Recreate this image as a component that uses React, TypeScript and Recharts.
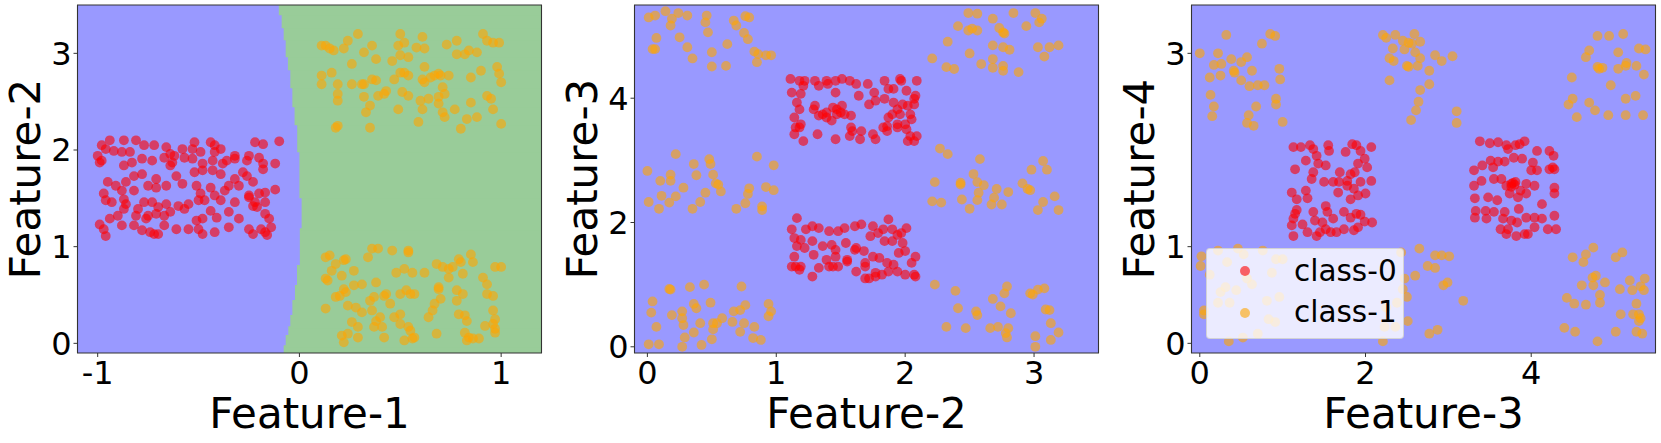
import { Label, Legend, ReferenceArea, Scatter, ScatterChart, XAxis, YAxis } from "recharts";

const FONT = "DejaVu Sans, sans-serif";
const RED = "#ff0000";
const ORANGE = "#ffa500";
const BLUE_BG = "#9999ff";
const GREEN_BG = "#99cc99";

type Pair = [number, number];

// ---- Feature-1 vs Feature-2 ----
const f1f2Class0: Pair[] = [
  [-0.98, 2.05], [-0.94, 2.1], [-0.96, 2.01], [-0.87, 2.1], [-0.81, 2.1], [-0.77, 2.05], [-0.72, 2.05], [-0.66, 2.03],
  [-0.64, 1.96], [-0.58, 2.01], [-0.52, 2.08], [-0.53, 2.01], [-0.49, 1.98], [-0.44, 2.08], [-0.42, 2.05], [-0.39, 2.01],
  [-0.36, 1.89], [-0.32, 1.94], [-0.26, 1.89], [-0.22, 2.08], [-0.18, 2.06], [-0.1, 2.09], [-1.0, 1.94], [-0.98, 1.89],
  [-0.92, 1.99], [-0.88, 1.98], [-0.84, 1.98], [-0.83, 1.87], [-0.78, 1.91], [-0.73, 1.89], [-0.67, 1.92], [-0.63, 1.87],
  [-0.62, 1.94], [-0.57, 1.92], [-0.53, 1.91], [-0.48, 1.86], [-0.43, 1.89], [-0.42, 1.98], [-0.38, 1.86], [-0.32, 1.91],
  [-0.25, 1.94], [-0.2, 1.92], [-0.18, 1.86], [-0.12, 1.86], [-0.99, 1.87], [-0.87, 1.84], [-0.82, 1.73], [-0.78, 1.75],
  [-0.71, 1.7], [-0.64, 1.84], [-0.61, 1.73], [-0.52, 1.77], [-0.48, 1.79], [-0.43, 1.79], [-0.39, 1.75], [-0.32, 1.7],
  [-0.28, 1.77], [-0.26, 1.73], [-0.23, 1.67], [-0.18, 1.8], [-0.95, 1.67], [-0.91, 1.63], [-0.86, 1.67], [-0.88, 1.58],
  [-0.82, 1.58], [-0.75, 1.63], [-0.71, 1.61], [-0.66, 1.63], [-0.58, 1.65], [-0.51, 1.63], [-0.49, 1.55], [-0.44, 1.61],
  [-0.37, 1.58], [-0.35, 1.63], [-0.3, 1.63], [-0.25, 1.53], [-0.2, 1.55], [-0.17, 1.56], [-0.12, 1.59], [-0.97, 1.55],
  [-0.96, 1.48], [-0.93, 1.46], [-0.87, 1.49], [-0.86, 1.44], [-0.8, 1.39], [-0.77, 1.46], [-0.73, 1.46], [-0.7, 1.41],
  [-0.66, 1.44], [-0.57, 1.39], [-0.55, 1.44], [-0.5, 1.48], [-0.47, 1.48], [-0.42, 1.53], [-0.39, 1.48], [-0.32, 1.46],
  [-0.25, 1.51], [-0.22, 1.46], [-0.21, 1.41], [-0.17, 1.46], [-0.9, 1.32], [-0.87, 1.39], [-0.81, 1.32], [-0.75, 1.32],
  [-0.71, 1.34], [-0.67, 1.32], [-0.64, 1.36], [-0.6, 1.42], [-0.51, 1.27], [-0.48, 1.29], [-0.44, 1.37], [-0.41, 1.3],
  [-0.35, 1.36], [-0.3, 1.29], [-0.23, 1.42], [-0.17, 1.34], [-0.15, 1.29], [-0.99, 1.23], [-0.97, 1.18], [-0.94, 1.29],
  [-0.88, 1.22], [-0.82, 1.22], [-0.78, 1.17], [-0.72, 1.13], [-0.7, 1.13], [-0.67, 1.22], [-0.61, 1.18], [-0.55, 1.18],
  [-0.5, 1.18], [-0.48, 1.13], [-0.42, 1.15], [-0.35, 1.2], [-0.25, 1.18], [-0.23, 1.13], [-0.19, 1.18], [-0.17, 1.15],
  [-0.14, 1.2], [-0.96, 1.11], [-0.74, 1.15], [-0.76, 1.29], [-0.16, 1.12],
];
const f1f2Class1Upper: Pair[] = [
  [0.11, 3.08], [0.13, 3.08], [0.15, 3.05], [0.17, 3.03], [0.22, 3.05], [0.29, 3.2], [0.24, 3.13], [0.32, 3.01],
  [0.36, 3.08], [0.38, 2.94], [0.36, 2.73], [0.38, 2.72], [0.32, 2.68], [0.26, 2.89], [0.11, 2.77], [0.11, 2.68],
  [0.16, 2.8], [0.19, 2.68], [0.19, 2.58], [0.19, 2.51], [0.18, 2.23], [0.19, 2.25], [0.26, 2.68], [0.31, 2.68],
  [0.32, 2.55], [0.35, 2.46], [0.33, 2.39], [0.35, 2.23], [0.39, 2.56], [0.42, 2.58], [0.43, 2.61], [0.47, 2.73],
  [0.46, 2.92], [0.5, 3.2], [0.49, 3.08], [0.52, 3.11], [0.5, 2.98], [0.54, 2.96], [0.5, 2.8], [0.52, 2.8],
  [0.54, 2.77], [0.51, 2.6], [0.54, 2.56], [0.49, 2.42], [0.58, 3.06], [0.61, 3.17], [0.62, 3.05], [0.62, 2.86],
  [0.61, 2.73], [0.62, 2.7], [0.6, 2.51], [0.61, 2.42], [0.59, 2.29], [0.64, 2.53], [0.65, 2.75], [0.67, 2.77],
  [0.69, 2.79], [0.7, 2.77], [0.74, 2.77], [0.71, 2.65], [0.72, 2.58], [0.69, 2.55], [0.69, 2.48], [0.71, 2.39],
  [0.72, 2.34], [0.73, 3.09], [0.78, 3.13], [0.78, 2.99], [0.82, 2.99], [0.84, 3.03], [0.88, 3.01], [0.77, 2.42],
  [0.83, 2.32], [0.8, 2.22], [0.88, 2.34], [0.85, 2.49], [0.85, 2.75], [0.9, 2.82], [0.91, 3.2], [0.93, 3.13],
  [0.96, 3.11], [0.99, 3.11], [0.98, 2.86], [0.99, 2.79], [1.0, 2.7], [0.93, 2.56], [0.95, 2.53], [0.96, 2.42], [1.0, 2.27],
];
const f1f2Class1Lower: Pair[] = [
  [0.13, 0.89], [0.15, 0.91], [0.18, 0.82], [0.22, 0.86], [0.23, 0.87], [0.13, 0.67], [0.14, 0.65], [0.16, 0.75],
  [0.21, 0.7], [0.27, 0.75], [0.22, 0.56], [0.23, 0.53], [0.27, 0.6], [0.31, 0.61], [0.34, 0.89], [0.36, 0.98],
  [0.39, 0.98], [0.46, 0.96], [0.54, 0.96], [0.54, 0.94], [0.52, 0.77], [0.48, 0.73], [0.56, 0.73], [0.62, 0.73],
  [0.68, 0.82], [0.71, 0.79], [0.74, 0.77], [0.76, 0.79], [0.79, 0.87], [0.8, 0.84], [0.85, 0.92], [0.86, 0.84],
  [0.91, 0.68], [0.93, 0.61], [0.97, 0.79], [1.0, 0.79], [0.74, 0.68], [0.69, 0.58], [0.81, 0.72], [0.38, 0.63],
  [0.35, 0.44], [0.37, 0.48], [0.43, 0.51], [0.42, 0.49], [0.5, 0.51], [0.53, 0.55], [0.55, 0.51], [0.57, 0.51],
  [0.69, 0.56], [0.7, 0.46], [0.67, 0.41], [0.66, 0.34], [0.64, 0.27], [0.78, 0.44], [0.78, 0.55], [0.81, 0.51],
  [0.93, 0.51], [0.96, 0.49], [0.96, 0.34], [0.97, 0.25], [0.96, 0.2], [0.97, 0.15], [0.18, 0.48], [0.2, 0.49],
  [0.13, 0.36], [0.24, 0.39], [0.28, 0.37], [0.31, 0.32], [0.36, 0.34], [0.38, 0.23], [0.4, 0.27], [0.41, 0.17],
  [0.45, 0.41], [0.47, 0.27], [0.5, 0.3], [0.26, 0.22], [0.29, 0.17], [0.37, 0.17], [0.42, 0.06], [0.5, 0.2],
  [0.54, 0.17], [0.55, 0.13], [0.56, 0.05], [0.52, 0.03], [0.57, 0.06], [0.21, 0.08], [0.22, 0.01], [0.24, 0.1],
  [0.68, 0.1], [0.79, 0.3], [0.82, 0.29], [0.83, 0.23], [0.82, 0.11], [0.84, 0.06], [0.83, 0.03], [0.86, 0.05],
  [0.89, 0.05], [0.92, 0.18], [0.97, 0.11], [0.29, 0.06],
];
// decision boundary of the first panel: band edges on Feature-2, Feature-1 where class-1 region starts
const boundaryEdgesF2 = [-0.1, -0.04, 0.065, 0.157, 0.273, 0.428, 0.583, 0.79, 1.17, 1.5, 1.978, 2.257, 2.443, 2.64, 2.826, 2.96, 3.135, 3.26, 3.395, 3.5];
const boundaryStartF1 = [-0.078, -0.068, -0.055, -0.045, -0.035, -0.022, -0.012, 0.002, 0.011, 0.0, -0.011, -0.024, -0.035, -0.045, -0.057, -0.068, -0.078, -0.088, -0.102];

// ---- Feature-2 vs Feature-3 ----
const f2f3Class0: Pair[] = [
  [1.11, 4.31], [1.18, 4.28], [1.22, 4.28], [1.3, 4.28], [1.39, 4.28], [1.46, 4.28], [1.51, 4.31], [1.57, 4.28],
  [1.62, 4.23], [1.71, 4.23], [1.84, 4.28], [1.96, 4.31], [1.97, 4.28], [2.09, 4.28], [1.12, 4.09], [1.19, 4.07],
  [1.21, 4.2], [1.33, 4.2], [1.4, 4.23], [1.46, 4.09], [1.64, 4.04], [1.76, 4.09], [1.87, 4.15], [1.91, 4.15],
  [2.01, 4.12], [2.08, 4.04], [2.07, 3.99], [1.16, 3.93], [1.18, 3.82], [1.3, 3.88], [1.29, 3.82], [1.36, 3.74],
  [1.39, 3.77], [1.44, 3.85], [1.47, 3.82], [1.51, 3.88], [1.53, 3.74], [1.58, 3.72], [1.72, 3.9], [1.77, 3.96],
  [1.84, 3.99], [1.91, 3.93], [1.94, 3.82], [1.98, 3.9], [2.02, 3.88], [2.07, 3.9], [1.14, 3.69], [1.15, 3.53],
  [1.19, 3.58], [1.33, 3.72], [1.39, 3.69], [1.43, 3.64], [1.47, 3.74], [1.5, 3.77], [1.87, 3.69], [1.9, 3.74],
  [1.96, 3.74], [2.04, 3.74], [2.05, 3.66], [1.86, 3.55], [1.94, 3.58], [2.0, 3.58], [1.18, 3.53], [1.14, 3.42],
  [1.32, 3.42], [1.46, 3.34], [1.58, 3.53], [1.59, 3.47], [1.66, 3.47], [1.75, 3.42], [1.77, 3.34], [1.83, 3.53],
  [1.86, 3.47], [1.94, 3.53], [2.01, 3.5], [2.04, 3.39], [2.09, 3.39], [2.02, 3.31], [1.21, 3.31], [1.57, 3.39],
  [1.65, 3.34], [2.07, 3.31],
  [1.16, 2.07], [1.12, 1.89], [1.14, 1.75], [1.19, 1.72], [1.23, 1.89], [1.28, 1.94], [1.33, 1.91], [1.41, 1.86],
  [1.48, 1.86], [1.53, 1.91], [1.61, 1.94], [1.66, 1.97], [1.75, 1.94], [1.83, 1.89], [1.87, 2.05], [1.9, 1.89],
  [1.97, 1.83], [2.01, 1.91], [1.22, 1.59], [1.16, 1.62], [1.28, 1.7], [1.36, 1.62], [1.43, 1.64], [1.46, 1.56],
  [1.54, 1.67], [1.62, 1.59], [1.68, 1.54], [1.73, 1.78], [1.79, 1.83], [1.84, 1.7], [1.9, 1.7], [1.98, 1.67],
  [1.94, 1.8], [1.14, 1.45], [1.15, 1.29], [1.19, 1.29], [1.29, 1.48], [1.39, 1.4], [1.46, 1.45], [1.44, 1.29],
  [1.55, 1.4], [1.61, 1.56], [1.69, 1.35], [1.75, 1.45], [1.8, 1.43], [1.86, 1.35], [1.91, 1.32], [1.95, 1.51],
  [2.0, 1.54], [2.08, 1.45], [2.05, 1.35], [1.12, 1.29], [1.18, 1.24], [1.33, 1.27], [1.41, 1.29], [1.48, 1.29],
  [1.55, 1.37], [1.62, 1.21], [1.69, 1.29], [1.77, 1.19], [1.87, 1.21], [1.94, 1.21], [2.0, 1.16], [2.07, 1.16],
  [2.08, 1.13], [1.28, 1.13], [1.69, 1.1], [1.72, 1.1], [1.77, 1.13], [1.82, 1.16],
];
const f2f3Class1: Pair[] = [
  [0.01, 5.3], [0.06, 5.33], [0.14, 5.4], [0.19, 5.28], [0.24, 5.37], [0.31, 5.33], [0.18, 5.17], [0.25, 4.98],
  [0.31, 4.82], [0.35, 4.64], [0.46, 5.33], [0.45, 5.22], [0.47, 5.06], [0.5, 4.74], [0.5, 4.51], [0.61, 4.52],
  [0.62, 4.87], [0.67, 5.25], [0.69, 5.17], [0.75, 5.05], [0.76, 5.32], [0.79, 5.3], [0.78, 4.95], [0.83, 4.75],
  [0.85, 4.58], [0.86, 4.71], [0.92, 4.69], [0.96, 4.69], [0.04, 4.79], [0.06, 4.79], [0.07, 4.97],
  [2.21, 4.64], [2.32, 4.5], [2.38, 4.47], [2.33, 4.91], [2.41, 5.16], [2.49, 5.37], [2.56, 5.36], [2.49, 5.09],
  [2.52, 5.12], [2.56, 5.09], [2.5, 4.72], [2.59, 4.55], [2.68, 5.28], [2.68, 4.85], [2.68, 4.63], [2.68, 4.49],
  [2.73, 5.13], [2.76, 5.06], [2.77, 5.04], [2.76, 4.82], [2.76, 4.52], [2.76, 4.44], [2.81, 4.78], [2.84, 5.37],
  [2.88, 4.42], [2.94, 5.16], [3.01, 5.37], [3.04, 5.22], [3.06, 5.28], [3.03, 4.82], [3.08, 4.67], [3.12, 4.82], [3.19, 4.85],
  [0.0, 2.83], [0.22, 3.1], [0.36, 2.94], [0.48, 3.02], [0.49, 2.94], [0.51, 2.77], [0.1, 2.67], [0.18, 2.77],
  [0.18, 2.67], [0.28, 2.56], [0.11, 2.43], [0.17, 2.32], [0.22, 2.42], [0.01, 2.33], [0.09, 2.22], [0.35, 2.22],
  [0.38, 2.76], [0.41, 2.33], [0.45, 2.48], [0.53, 2.63], [0.57, 2.5], [0.55, 2.61], [0.69, 2.22], [0.76, 2.31],
  [0.78, 2.46], [0.79, 2.55], [0.85, 3.06], [0.89, 2.26], [0.89, 2.2], [0.92, 2.57], [0.98, 2.52], [0.98, 2.92],
  [2.27, 3.19], [2.33, 3.1], [2.23, 2.65], [2.21, 2.34], [2.28, 2.32], [2.43, 2.64], [2.43, 2.61], [2.44, 2.37],
  [2.5, 2.22], [2.53, 2.78], [2.56, 2.65], [2.58, 3.02], [2.61, 2.6], [2.57, 2.48], [2.56, 2.36], [2.67, 2.29],
  [2.69, 2.4], [2.71, 2.54], [2.75, 2.29], [2.8, 2.49], [2.91, 2.63], [2.95, 2.54], [2.97, 2.52], [2.98, 2.85],
  [3.03, 2.2], [3.07, 2.99], [3.1, 2.85], [3.07, 2.33], [3.16, 2.42], [3.19, 2.2],
  [0.17, 0.93], [0.18, 0.92], [0.33, 0.96], [0.44, 1.0], [0.73, 0.97], [0.04, 0.73], [0.03, 0.55], [0.07, 0.32],
  [0.01, 0.04], [0.09, 0.04], [0.19, 0.51], [0.27, 0.57], [0.27, 0.46], [0.28, 0.35], [0.29, 0.15], [0.27, 0.0],
  [0.36, 0.69], [0.38, 0.62], [0.36, 0.23], [0.41, 0.38], [0.42, 0.03], [0.49, 0.71], [0.5, 0.12], [0.51, 0.38],
  [0.51, 0.28], [0.54, 0.38], [0.58, 0.46], [0.67, 0.57], [0.66, 0.4], [0.72, 0.24], [0.72, 0.59], [0.76, 0.67],
  [0.75, 0.38], [0.83, 0.32], [0.82, 0.14], [0.88, 0.11], [0.94, 0.69], [0.96, 0.57], [0.94, 0.49],
  [2.23, 1.0], [2.39, 0.9], [2.41, 0.62], [2.32, 0.32], [2.47, 0.3], [2.55, 0.57], [2.56, 0.51], [2.66, 0.3],
  [2.68, 0.77], [2.72, 0.32], [2.74, 0.65], [2.77, 0.86], [2.79, 0.97], [2.82, 0.54], [2.78, 0.22], [2.79, 0.15],
  [2.8, 0.3], [2.97, 0.86], [2.99, 0.84], [3.03, 0.92], [3.08, 0.94], [3.09, 0.6], [3.12, 0.59], [3.01, 0.17],
  [3.01, 0.0], [3.13, 0.38], [3.19, 0.23], [3.13, 0.11],
];

// ---- Feature-3 vs Feature-4 ----
const f3f4Class0: Pair[] = [
  [1.13, 2.03], [1.22, 2.03], [1.33, 2.05], [1.37, 2.01], [1.55, 2.05], [1.56, 1.99], [1.76, 1.98], [1.84, 2.06],
  [1.89, 2.05], [1.94, 1.99], [2.07, 2.03], [1.28, 1.89], [1.41, 1.94], [1.43, 1.86], [1.15, 1.8], [1.37, 1.77],
  [1.52, 1.84], [1.69, 1.77], [1.82, 1.75], [1.87, 1.77], [1.99, 1.91], [2.02, 1.82], [1.91, 1.86], [1.35, 1.7],
  [1.5, 1.67], [1.61, 1.67], [1.68, 1.67], [1.78, 1.68], [1.86, 1.6], [1.94, 1.67], [2.07, 1.68], [1.11, 1.56],
  [1.28, 1.58], [1.17, 1.49], [1.3, 1.5], [1.52, 1.42], [1.67, 1.56], [1.78, 1.63], [1.91, 1.53], [2.0, 1.55],
  [1.82, 1.49], [1.17, 1.38], [1.15, 1.34], [1.37, 1.36], [1.54, 1.36], [1.74, 1.36], [1.89, 1.34], [1.94, 1.33],
  [1.13, 1.29], [1.11, 1.22], [1.24, 1.23], [1.39, 1.27], [1.48, 1.25], [1.61, 1.29], [1.82, 1.3], [1.99, 1.26],
  [2.08, 1.25], [1.13, 1.11], [1.3, 1.15], [1.41, 1.11], [1.45, 1.15], [1.52, 1.18], [1.58, 1.15], [1.65, 1.15],
  [1.74, 1.18], [1.91, 1.2], [1.86, 1.17],
  [3.38, 2.09], [3.5, 2.07], [3.6, 2.08], [3.7, 2.05], [3.72, 2.01], [3.81, 2.05], [3.86, 2.06], [3.92, 2.09],
  [4.07, 1.99], [4.22, 1.99], [4.27, 1.94], [3.31, 1.79], [3.41, 1.84], [3.51, 1.89], [3.6, 1.88], [3.54, 1.82],
  [3.68, 1.88], [3.79, 1.92], [3.89, 1.91], [4.02, 1.87], [4.07, 1.79], [4.22, 1.8], [4.26, 1.82], [4.28, 1.8],
  [4.0, 1.79], [3.31, 1.63], [3.4, 1.68], [3.55, 1.7], [3.64, 1.7], [3.7, 1.63], [3.76, 1.65], [3.81, 1.67],
  [3.87, 1.58], [3.94, 1.65], [4.04, 1.63], [4.28, 1.61], [3.32, 1.5], [3.48, 1.51], [3.59, 1.48], [3.74, 1.55],
  [3.84, 1.51], [3.94, 1.55], [4.13, 1.44], [4.28, 1.55], [3.33, 1.37], [3.45, 1.37], [3.55, 1.36], [3.68, 1.36],
  [3.85, 1.39], [3.94, 1.3], [4.04, 1.3], [4.13, 1.29], [4.28, 1.32], [3.32, 1.3], [3.46, 1.29], [3.66, 1.29],
  [3.76, 1.27], [4.04, 1.2], [4.2, 1.18], [4.3, 1.18], [3.63, 1.18], [3.7, 1.13], [3.82, 1.11], [3.92, 1.13],
  [3.96, 1.13], [3.72, 1.18], [3.83, 1.25], [3.78, 1.66], [3.76, 1.62], [3.8, 1.64],
];
const f3f4Class1: Pair[] = [
  [0.0, 3.0], [0.22, 3.0], [0.32, 3.19], [0.17, 2.88], [0.26, 2.89], [0.38, 2.94], [0.41, 2.82], [0.5, 2.91],
  [0.57, 2.96], [0.63, 2.82], [0.75, 3.1], [0.85, 3.2], [0.91, 3.18], [0.96, 2.84], [0.97, 2.73], [0.12, 2.75],
  [0.25, 2.77], [0.5, 2.72], [0.6, 2.66], [0.7, 2.67], [0.78, 2.67], [0.13, 2.57], [0.17, 2.45], [0.15, 2.35],
  [0.68, 2.45], [0.92, 2.53], [0.92, 2.47], [0.59, 2.36], [0.57, 2.28], [0.65, 2.25], [1.0, 2.29], [0.42, 2.8],
  [2.21, 3.19], [2.25, 3.16], [2.36, 3.19], [2.45, 3.13], [2.59, 3.2], [2.66, 3.12], [2.33, 3.05], [2.47, 3.04],
  [2.52, 3.11], [2.56, 3.1], [2.6, 3.01], [2.29, 2.95], [2.34, 2.92], [2.5, 2.87], [2.52, 2.86], [2.63, 2.87],
  [2.66, 2.95], [2.84, 2.98], [2.92, 2.92], [3.05, 2.97], [2.29, 2.72], [2.77, 2.82], [2.77, 2.68], [2.66, 2.62],
  [2.64, 2.5], [2.61, 2.41], [2.55, 2.31], [3.1, 2.4], [3.1, 2.28],
  [4.8, 3.18], [4.94, 3.18], [5.11, 3.2], [4.7, 3.03], [4.66, 2.96], [4.8, 2.86], [4.82, 2.84], [4.86, 2.85],
  [5.05, 3.01], [5.05, 2.84], [5.14, 2.87], [5.15, 2.9], [5.27, 2.87], [5.3, 3.05], [5.38, 3.04], [4.49, 2.75],
  [4.96, 2.67], [5.36, 2.78], [4.5, 2.53], [4.45, 2.47], [4.55, 2.34], [4.7, 2.49], [4.77, 2.41], [4.93, 2.36],
  [5.14, 2.53], [5.26, 2.56], [5.14, 2.36], [5.35, 2.36],
  [0.02, 0.9], [0.01, 0.8], [0.05, 0.34], [0.05, 0.3], [0.35, 0.02], [0.52, 0.06], [0.46, 0.98], [0.7, 0.1],
  [0.91, 0.22], [0.96, 0.48], [0.92, 0.87], [1.0, 0.87], [0.31, 0.58], [0.36, 0.42], [0.22, 0.42], [0.44, 0.55],
  [0.57, 0.67], [0.63, 0.61], [0.87, 0.73], [0.12, 0.71], [0.33, 0.84], [0.22, 0.96], [0.53, 0.92], [0.76, 0.96],
  [0.25, 0.53], [0.81, 0.44], [0.83, 0.25],
  [2.21, 0.02], [2.23, 0.17], [2.36, 0.17], [2.51, 0.23], [2.5, 0.48], [2.47, 0.67], [2.6, 0.7], [2.43, 0.94],
  [2.65, 0.98], [2.75, 0.8], [2.84, 0.78], [2.84, 0.91], [2.92, 0.91], [3.01, 0.9], [2.94, 0.6], [2.99, 0.63],
  [3.18, 0.44], [2.77, 0.1], [2.87, 0.14], [2.25, 0.37], [2.38, 0.42], [2.45, 0.56],
  [4.5, 0.89], [4.63, 0.84], [4.66, 0.92], [4.75, 0.99], [5.02, 0.89], [5.1, 0.94], [4.61, 0.6], [4.74, 0.68],
  [4.78, 0.7], [4.89, 0.63], [4.75, 0.6], [4.83, 0.5], [4.83, 0.42], [5.07, 0.56], [5.19, 0.65], [5.22, 0.55],
  [5.32, 0.59], [5.36, 0.55], [5.37, 0.67], [4.43, 0.47], [4.52, 0.41], [4.66, 0.4], [5.27, 0.41], [4.4, 0.16],
  [4.53, 0.12], [4.8, 0.02], [5.02, 0.12], [5.08, 0.3], [5.23, 0.3], [5.3, 0.3], [5.3, 0.23], [5.27, 0.12],
  [5.34, 0.1], [5.32, 0.26],
];

const toPoints = (pairs: Pair[]) => pairs.map(([x, y]) => ({ x, y }));

const dot = (color: string) => (props: any) =>
  props.cx == null ? <g /> : <circle cx={props.cx} cy={props.cy} r={4.9} fill={color} fillOpacity={0.6} />;

const TICK_FONT = 32;

const XTick = (props: any) => (
  <text x={props.x} y={props.y} dy={0.69 * TICK_FONT} textAnchor="middle" fontSize={TICK_FONT} fontFamily={FONT} fill="#000">
    {props.payload.value}
  </text>
);

const YTick = (props: any) => (
  <text x={props.x} y={props.y} dy={0.355 * TICK_FONT} textAnchor="end" fontSize={TICK_FONT} fontFamily={FONT} fill="#000">
    {props.payload.value}
  </text>
);

const xLabel = (text: string) => (props: any) => {
  const vb = props.viewBox;
  return (
    <text x={vb.x + vb.width / 2} y={vb.y + 75} textAnchor="middle" fontSize={42} fontFamily={FONT} fill="#000">
      {text}
    </text>
  );
};

const yLabel = (text: string) => (props: any) => {
  const vb = props.viewBox;
  const cx = vb.x + 40;
  const cy = vb.y + vb.height / 2;
  return (
    <text x={cx} y={cy} transform={`rotate(-90 ${cx} ${cy})`} textAnchor="middle" fontSize={42} fontFamily={FONT} fill="#000">
      {text}
    </text>
  );
};

function LegendBox({ payload }: any) {
  return (
    <div
      style={{
        position: "relative",
        width: 198,
        height: 91,
        boxSizing: "border-box",
        background: "rgba(255,255,255,0.8)",
        border: "1px solid rgba(204,204,204,0.8)",
        borderRadius: 4,
        fontFamily: FONT,
        fontSize: 29.5,
        color: "#000",
      }}
    >
      {(payload || []).map((entry: any, i: number) => (
        <div key={entry.value}>
          <span
            style={{
              position: "absolute",
              left: 33,
              top: 17 + i * 41.5,
              width: 10,
              height: 10,
              borderRadius: "50%",
              background: entry.color,
              opacity: 0.6,
            }}
          />
          <span style={{ position: "absolute", left: 87, top: 7.5 + i * 41.5, lineHeight: 1, whiteSpace: "nowrap" }}>
            {entry.value}
          </span>
        </div>
      ))}
    </div>
  );
}

type PanelProps = {
  width: number;
  xName: string;
  yName: string;
  xDomain: [number, number];
  yDomain: [number, number];
  xTicks: number[];
  yTicks: number[];
  class0: Pair[];
  class1: Pair[];
  boundary?: { edges: number[]; starts: number[] };
  legend?: boolean;
};

function Panel({ width, xName, yName, xDomain, yDomain, xTicks, yTicks, class0, class1, boundary, legend }: PanelProps) {
  return (
    <ScatterChart width={width} height={443} margin={{ top: 5, right: width - 77.5 - 464, bottom: 0, left: 0 }}>
      <XAxis
        type="number"
        dataKey="x"
        domain={xDomain}
        ticks={xTicks}
        allowDataOverflow
        interval={0}
        height={90}
        tickSize={4}
        tickMargin={5}
        axisLine={false}
        tickLine={{ stroke: "#333" }}
        tick={<XTick />}
      >
        <Label content={xLabel(xName)} />
      </XAxis>
      <YAxis
        type="number"
        dataKey="y"
        domain={yDomain}
        ticks={yTicks}
        allowDataOverflow
        interval={0}
        width={77.5}
        tickSize={4}
        tickMargin={2}
        axisLine={false}
        tickLine={{ stroke: "#333" }}
        tick={<YTick />}
      >
        <Label content={yLabel(yName)} />
      </YAxis>
      <ReferenceArea x1={xDomain[0]} x2={xDomain[1]} y1={yDomain[0]} y2={yDomain[1]} fill={BLUE_BG} fillOpacity={1} stroke="none" />
      {boundary
        ? boundary.starts.map((start, i) => (
            <ReferenceArea
              key={i}
              x1={start}
              x2={xDomain[1]}
              y1={boundary.edges[i]}
              y2={Math.min(boundary.edges[i + 1] + 0.02, yDomain[1])}
              fill={GREEN_BG}
              fillOpacity={1}
              stroke="none"
            />
          ))
        : null}
      <ReferenceArea x1={xDomain[0]} x2={xDomain[1]} y1={yDomain[0]} y2={yDomain[1]} fill="none" stroke="#333" strokeWidth={1.1} />
      <Scatter name="class-0" data={toPoints(class0)} fill={RED} shape={dot(RED)} isAnimationActive={false} />
      <Scatter name="class-1" data={toPoints(class1)} fill={ORANGE} shape={dot(ORANGE)} isAnimationActive={false} />
      {legend ? (
        <Legend
          layout="vertical"
          align="center"
          verticalAlign="middle"
          content={<LegendBox />}
          wrapperStyle={{ left: 92, top: 248, width: 198, height: 91 }}
        />
      ) : null}
    </ScatterChart>
  );
}

export default function App() {
  return (
    <div style={{ position: "absolute", left: 0, top: 0, width: 1661, height: 443, background: "#fff" }}>
      <div style={{ position: "absolute", left: 0, top: 0 }}>
        <Panel
          width={557}
          xName="Feature-1"
          yName="Feature-2"
          xDomain={[-1.1, 1.2]}
          yDomain={[-0.1, 3.5]}
          xTicks={[-1, 0, 1]}
          yTicks={[0, 1, 2, 3]}
          class0={f1f2Class0}
          class1={[...f1f2Class1Upper, ...f1f2Class1Lower]}
          boundary={{ edges: boundaryEdgesF2, starts: boundaryStartF1 }}
        />
      </div>
      <div style={{ position: "absolute", left: 557, top: 0 }}>
        <Panel
          width={557}
          xName="Feature-2"
          yName="Feature-3"
          xDomain={[-0.1, 3.5]}
          yDomain={[-0.1, 5.5]}
          xTicks={[0, 1, 2, 3]}
          yTicks={[0, 2, 4]}
          class0={f2f3Class0}
          class1={f2f3Class1}
        />
      </div>
      <div style={{ position: "absolute", left: 1114, top: 0 }}>
        <Panel
          width={547}
          xName="Feature-3"
          yName="Feature-4"
          xDomain={[-0.1, 5.5]}
          yDomain={[-0.1, 3.5]}
          xTicks={[0, 2, 4]}
          yTicks={[0, 1, 3]}
          class0={f3f4Class0}
          class1={f3f4Class1}
          legend
        />
      </div>
    </div>
  );
}
